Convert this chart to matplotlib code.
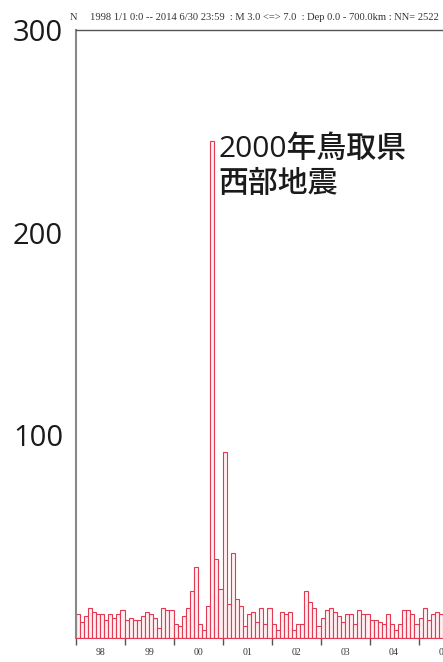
import matplotlib
matplotlib.use("Agg")
import matplotlib.pyplot as plt
import numpy as np

# Monthly counts, starting January 1998
counts_1998 = [12, 8, 11, 15, 13, 12, 12, 9, 12, 10, 12, 14]
counts_1999 = [9, 10, 9, 9, 11, 13, 12, 10, 5, 15, 14, 14]
counts_2000 = [7, 6, 11, 15, 23, 35, 7, 4, 16, 245, 39, 24]
counts_2001 = [92, 17, 42, 19, 16, 6, 12, 13, 8, 15, 7, 15]
counts_2002 = [7, 4, 13, 12, 13, 4, 7, 7, 23, 18, 15, 6]
counts_2003 = [10, 14, 15, 13, 11, 8, 12, 12, 7, 14, 12, 12]
counts_2004 = [9, 9, 8, 7, 12, 7, 4, 7, 14, 14, 12, 7]
counts_2005 = [10, 15, 9, 12, 13, 12]

counts = (counts_1998 + counts_1999 + counts_2000 + counts_2001 +
          counts_2002 + counts_2003 + counts_2004 + counts_2005)
year_labels = ["98", "99", "00", "01", "02", "03", "04", "05"]
y_ticks = [100, 200, 300]
header = "1998 1/1 0:0 -- 2014 6/30 23:59  : M 3.0 <=> 7.0  : Dep 0.0 - 700.0km : NN= 2522"
annotation = "2000年鳥取県\n西部地震"

W, H = 443, 662
fig = plt.figure(figsize=(W / 100, H / 100), dpi=100)
left_px, top_px, bottom_px = 75.5, 30, 638
ax = fig.add_axes([left_px / W, (H - bottom_px) / H, 1 - left_px / W, (bottom_px - top_px) / H])

px_per_year = 49.0
x_right = 1998 + (W - left_px) / px_per_year

x = 1998 + np.arange(len(counts)) / 12.0
ax.bar(x, counts, width=1 / 12, align="edge", facecolor="#fff0f2",
       edgecolor="#e23a52", linewidth=0.8, zorder=2)

ax.set_xlim(1998, x_right)
ax.set_ylim(0, 300)

# year boundary ticks
ax.set_xticks(np.arange(1998, 2006))
ax.set_xticklabels([])
ax.tick_params(axis="x", which="major", direction="out", length=5, width=1, color="#555555")
ax.set_xticks(np.arange(1998, 2006) + 0.5, minor=True)
ax.set_xticklabels(year_labels, minor=True, fontfamily="Liberation Serif", fontsize=7, color="#333333")
ax.tick_params(axis="x", which="minor", length=0, pad=7)

ax.set_yticks(y_ticks)
ax.set_yticklabels([str(v) for v in y_ticks], fontfamily="Open Sans", fontsize=21,
                   fontweight="medium", color="#1a1a1a")
ax.tick_params(axis="y", length=0, pad=9)

ax.spines["right"].set_visible(False)
ax.spines["left"].set_color("#888888")
ax.spines["left"].set_linewidth(1.5)
ax.spines["top"].set_color("#555555")
ax.spines["top"].set_linewidth(1.0)
ax.spines["bottom"].set_color("#e23a52")
ax.spines["bottom"].set_linewidth(0.8)

fig.text(70 / W, 1 - 17 / H, "N", fontfamily="Liberation Serif", fontsize=7.6,
         color="#333333", va="center", ha="left")
fig.text(90 / W, 1 - 17 / H, header, fontfamily="Liberation Serif", fontsize=7.6,
         color="#333333", va="center", ha="left")

ax.text(2000.92, 248, annotation, fontfamily=["Open Sans", "Noto Sans CJK JP"],
        fontsize=21.5, fontweight="medium", color="#1a1a1a", va="top", ha="left",
        linespacing=1.25)

fig.savefig("out.png", dpi=100)
